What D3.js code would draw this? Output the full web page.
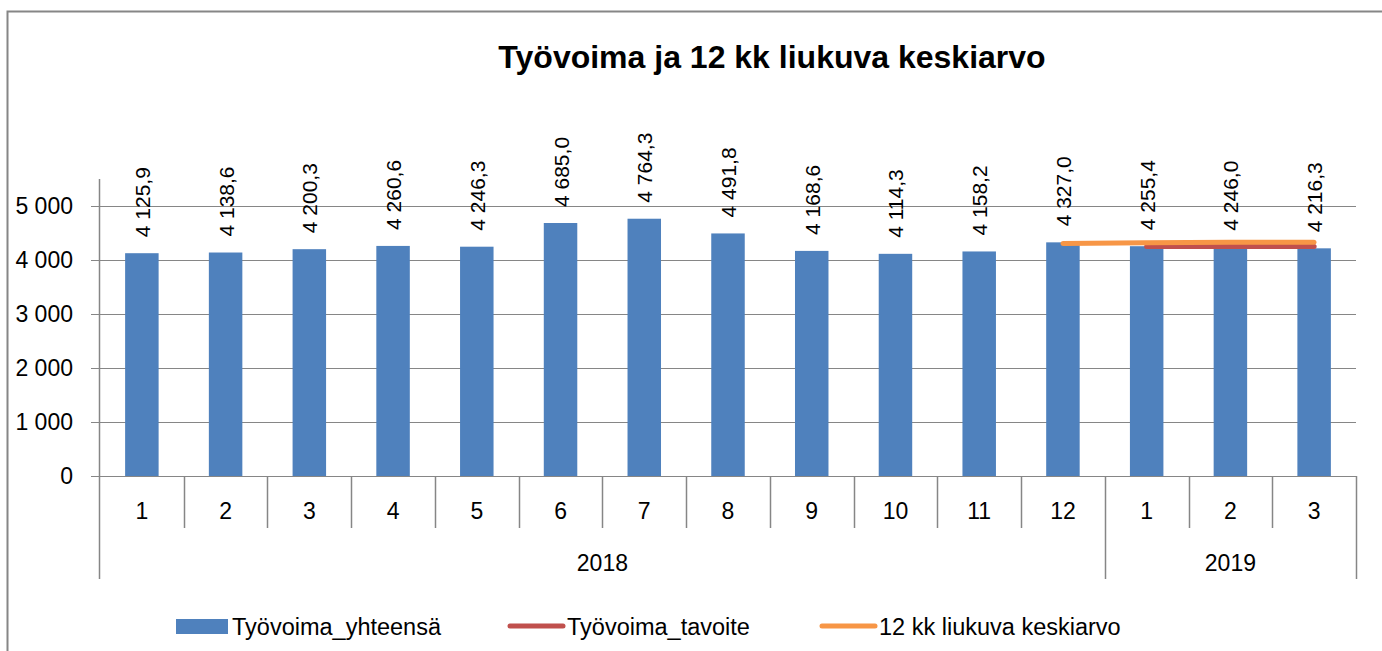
<!DOCTYPE html>
<html><head><meta charset="utf-8">
<script src="https://cdn.jsdelivr.net/npm/d3@7"></script>
<style>body{margin:0;background:#fff}svg{display:block}text{font-family:"Liberation Sans",Arial,sans-serif}</style>
</head><body><svg id="c" width="1382" height="651"></svg>
<script>
const months = ["1","2","3","4","5","6","7","8","9","10","11","12","1","2","3"];
const years = [{label:"2018", start:0, end:12},{label:"2019", start:12, end:15}];
const total = [4125.9,4138.6,4200.3,4260.6,4246.3,4685.0,4764.3,4491.8,4168.6,4114.3,4158.2,4327.0,4255.4,4246.0,4216.3];
const target = [null,null,null,null,null,null,null,null,null,null,null,null,4250,4250,4250];
const movingAvg = [null,null,null,null,null,null,null,null,null,null,null,4307,4318,4327,4328];
const yTicks = [0,1000,2000,3000,4000,5000];
const seriesNames = ["Työvoima_yhteensä","Työvoima_tavoite","12 kk liukuva keskiarvo"];
const colors = ["#4F81BD","#C0504D","#F79646"];

const svg = d3.select("#c");
const L=100, R=1356, T=179, B=476;
const x = d3.scaleBand().domain(d3.range(months.length)).range([L,R]).paddingInner(0.6).paddingOuter(0.3);
const xs = d3.scaleLinear().domain([0, months.length]).range([L,R]);
const y = d3.scaleLinear().domain([0,5500]).range([B,T]);
const grey = "#868686";

// frame
svg.append("path").attr("d","M7.5,651 V11.5 H1382").attr("fill","none").attr("stroke",grey).attr("stroke-width",2);

// title
svg.append("text").attr("x",772).attr("y",68).attr("text-anchor","middle")
  .attr("font-size",32).attr("font-weight","bold").text("Työvoima ja 12 kk liukuva keskiarvo");

// gridlines + y labels
const ya = svg.append("g");
yTicks.forEach(t=>{
  ya.append("line").attr("x1",91).attr("x2",R).attr("y1",Math.round(y(t))+0.5).attr("y2",Math.round(y(t))+0.5)
    .attr("stroke",grey).attr("stroke-width",1.2);
  ya.append("text").attr("x",73).attr("y",y(t)+8).attr("text-anchor","end").attr("font-size",23).text(d3.format(",")(t).replace(/,/g," "));
});
ya.append("line").attr("x1",L-0.5).attr("x2",L-0.5).attr("y1",T).attr("y2",579).attr("stroke",grey).attr("stroke-width",1.5);

// category ticks
const bounds = new Set(years.map(d=>d.start).concat(years.map(d=>d.end)));
for(let i=1;i<=months.length;i++){
  svg.append("line").attr("x1",Math.round(xs(i))+0.5).attr("x2",Math.round(xs(i))+0.5)
    .attr("y1",B).attr("y2",bounds.has(i)?579:528).attr("stroke",grey).attr("stroke-width",1.5);
}
months.forEach((m,i)=>{
  svg.append("text").attr("x",xs(i+0.5)).attr("y",519).attr("text-anchor","middle").attr("font-size",23).text(m);
});
years.forEach(yr=>{
  svg.append("text").attr("x",(xs(yr.start)+xs(yr.end))/2).attr("y",571).attr("text-anchor","middle").attr("font-size",23).text(yr.label);
});

// bars
svg.append("g").selectAll("rect").data(total).join("rect")
  .attr("x",(d,i)=>x(i)).attr("width",x.bandwidth())
  .attr("y",d=>y(d)).attr("height",d=>B-y(d)).attr("fill",colors[0]);

// value labels
svg.append("g").selectAll("text").data(total).join("text")
  .attr("transform",(d,i)=>`translate(${xs(i+0.5)+8},${y(d)-16}) rotate(-90)`)
  .attr("font-size",21).text(d=>d3.format(",.1f")(d).replace(",", " ").replace(".", ","));

// lines
const lineGen = d3.line().defined(d=>d.v!=null).x(d=>xs(d.i+0.5)).y(d=>y(d.v));
svg.append("path").attr("d",lineGen(target.map((v,i)=>({v,i}))))
  .attr("fill","none").attr("stroke",colors[1]).attr("stroke-width",5).attr("stroke-linecap","round");
svg.append("path").attr("d",lineGen(movingAvg.map((v,i)=>({v,i}))))
  .attr("fill","none").attr("stroke",colors[2]).attr("stroke-width",5).attr("stroke-linecap","round");

// legend
const lg = svg.append("g");
lg.append("rect").attr("x",176).attr("y",619).attr("width",52).attr("height",15).attr("fill",colors[0]);
lg.append("text").attr("x",232).attr("y",635).attr("font-size",23.5).text(seriesNames[0]);
lg.append("line").attr("x1",510).attr("x2",563).attr("y1",626).attr("y2",626).attr("stroke",colors[1]).attr("stroke-width",5).attr("stroke-linecap","round");
lg.append("text").attr("x",567).attr("y",635).attr("font-size",23.5).text(seriesNames[1]);
lg.append("line").attr("x1",822).attr("x2",875).attr("y1",626).attr("y2",626).attr("stroke",colors[2]).attr("stroke-width",5).attr("stroke-linecap","round");
lg.append("text").attr("x",879).attr("y",635).attr("font-size",23.5).text(seriesNames[2]);
</script></body></html>
